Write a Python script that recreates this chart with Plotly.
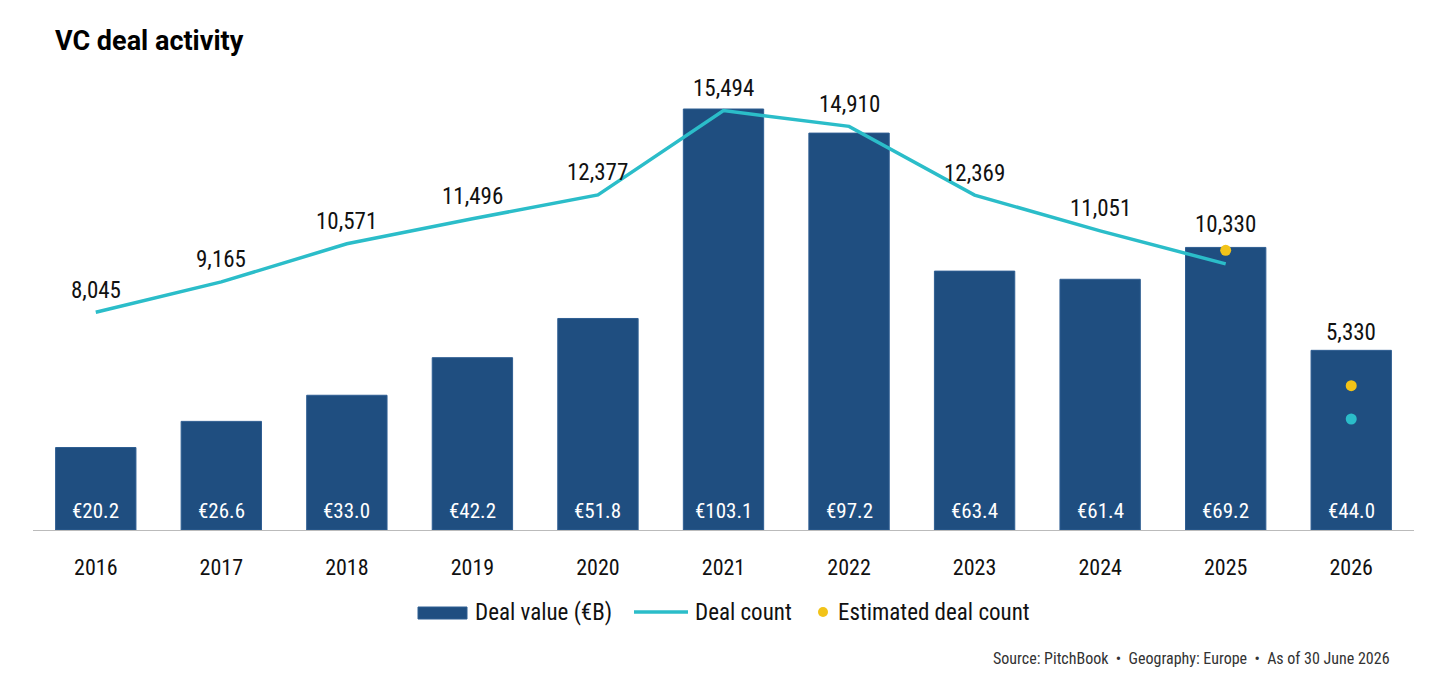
import plotly.graph_objects as go

years = ["2016", "2017", "2018", "2019", "2020", "2021", "2022", "2023", "2024", "2025", "2026"]
deal_value = [20.2, 26.6, 33.0, 42.2, 51.8, 103.1, 97.2, 63.4, 61.4, 69.2, 44.0]
deal_count = [8045, 9165, 10571, 11496, 12377, 15494, 14910, 12369, 11051, 9830, None]
deal_count_2026 = [None, None, None, None, None, None, None, None, None, None, 4100]
est_count = [None, None, None, None, None, None, None, None, None, 10330, 5330]
count_labels = ["8,045", "9,165", "10,571", "11,496", "12,377", "15,494", "14,910", "12,369", "11,051", "10,330", "5,330"]
legend_names = ["Deal value (€B)", "Deal count", "Estimated deal count"]

BAR = "#1F4E80"
TEAL = "#2BBDC9"
YELLOW = "#F2C318"
FONT = "Roboto Condensed, Roboto, sans-serif"

# page geometry (browser body offset of 8px is accounted for)
OFF = 8
W, H = 1456, 699
ML, MR, MT, MB = 25, 50, 32, 177
PX0 = OFF + ML
PW = W - ML - MR
PY1 = OFF + H - MB
PH = H - MT - MB


def px(sx):
    return (sx - PX0) / PW


def py(sy):
    return (PY1 - sy) / PH


fig = go.Figure()
fig.add_trace(go.Bar(
    x=years, y=deal_value, name=legend_names[0],
    marker=dict(color=BAR, line=dict(color="#2F5E92", width=1)),
    yaxis="y", hoverinfo="skip", showlegend=False,
))
fig.add_trace(go.Scatter(
    x=years, y=deal_count, name=legend_names[1], mode="lines",
    line=dict(color=TEAL, width=3.5), yaxis="y2", showlegend=False,
))
fig.add_trace(go.Scatter(
    x=years, y=deal_count_2026, name="Deal count 2026", mode="markers",
    marker=dict(color=TEAL, size=11), yaxis="y2", showlegend=False,
))
fig.add_trace(go.Scatter(
    x=years, y=est_count, name=legend_names[2], mode="markers",
    marker=dict(color=YELLOW, size=11), yaxis="y2", showlegend=False,
))

annotations = []
# count labels
for i, yr in enumerate(years):
    if i < 9:
        yval, yref, shift = deal_count[i], "y2", 22
    elif i == 9:
        yval, yref, shift = est_count[i], "y2", 26
    else:
        yval, yref, shift = deal_value[i], "y", 18
    annotations.append(dict(x=i, y=yval, xref="x", yref=yref, yshift=shift,
                            text=count_labels[i], showarrow=False,
                            font=dict(size=23, color="#111", family=FONT)))
# value labels inside bars
for i, v in enumerate(deal_value):
    annotations.append(dict(x=i, y=0, xref="x", yref="y", yshift=19,
                            text="€%.1f" % v, showarrow=False,
                            font=dict(size=21, color="white", family=FONT)))

# custom legend
LY = 612
shapes = [
    dict(type="rect", xref="paper", yref="paper", x0=px(418), x1=px(467), y0=py(619), y1=py(607),
         fillcolor=BAR, line=dict(color="#2F5E92", width=1)),
    dict(type="line", xref="paper", yref="paper", x0=px(634), x1=px(688), y0=py(LY), y1=py(LY),
         line=dict(color=TEAL, width=3.5)),
    dict(type="circle", xref="paper", yref="paper", x0=px(818), x1=px(828), y0=py(LY + 5), y1=py(LY - 5),
         fillcolor=YELLOW, line=dict(width=0)),
]
for name, sx in zip(legend_names, [473, 693, 836]):
    annotations.append(dict(x=px(sx), y=py(LY), xref="paper", yref="paper",
                            xanchor="left", yanchor="middle", text=name, showarrow=False,
                            font=dict(size=23, color="#111", family=FONT)))

annotations.append(dict(
    x=px(1392), y=py(658), xref="paper", yref="paper", xanchor="right", yanchor="middle",
    text="Source: PitchBook  •  Geography: Europe  •  As of 30 June 2026", showarrow=False,
    font=dict(size=16, color="#333", family=FONT),
))

fig.update_layout(
    width=W, height=H,
    margin=dict(l=ML, r=MR, t=MT, b=MB),
    paper_bgcolor="white", plot_bgcolor="white",
    font=dict(family=FONT, color="#111"),
    title=dict(text="<b>VC deal activity</b>", x=(55 - OFF) / W, xref="container", xanchor="left",
               y=1 - (41 - OFF) / H, yref="container", yanchor="middle",
               font=dict(size=27, family="Roboto, sans-serif", color="#000")),
    bargap=0.36,
    showlegend=False,
    xaxis=dict(type="category", range=[-0.5, len(years) - 0.5], autorange=False,
               showline=True, linecolor="#BBBBBB", linewidth=1, showgrid=False,
               ticks="", tickfont=dict(size=22, family=FONT, color="#111"),
               ticklabelstandoff=18),
    yaxis=dict(range=[0, 120], visible=False, showgrid=False),
    yaxis2=dict(range=[0, 18100], overlaying="y", visible=False, showgrid=False),
    annotations=annotations,
    shapes=shapes,
)

fig.write_html("out.html")
